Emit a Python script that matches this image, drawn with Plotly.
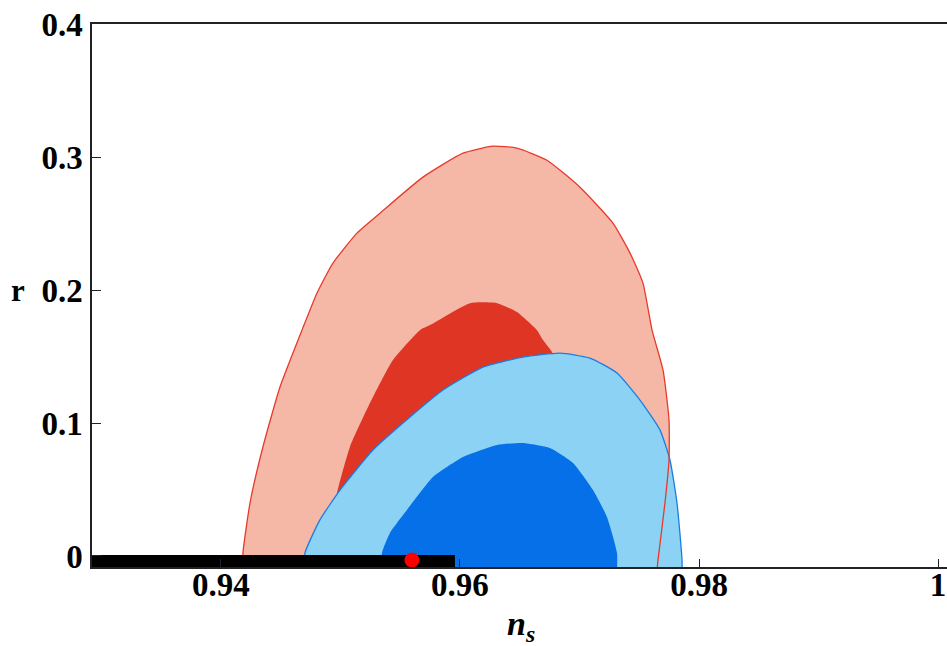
import plotly.graph_objects as go

# ---- data ----
outer_red_x = [0.94184, 0.94184, 0.94243, 0.94351, 0.94494, 0.94678, 0.94803, 0.94937, 0.95138,
               0.95331, 0.95690, 0.96025, 0.96276, 0.96477, 0.96728, 0.97004, 0.97280, 0.97423,
               0.97531, 0.97607, 0.97699, 0.97749, 0.97749, 0.97715, 0.97657, 0.97649]
outer_red_y = [-0.0105, 0.0023, 0.0398, 0.0820, 0.1271, 0.1699, 0.1977, 0.2203, 0.2429,
               0.2579, 0.2850, 0.3030, 0.3083, 0.3068, 0.2977, 0.2774, 0.2504, 0.2278,
               0.2053, 0.1699, 0.1398, 0.1023, 0.0722, 0.0398, -0.0030, -0.0105]

inner_red_x = [0.94912, 0.94937, 0.94971, 0.95079, 0.95247, 0.95439, 0.95665, 0.95749, 0.96084,
               0.96310, 0.96477, 0.96644, 0.96695, 0.96770, 0.96921, 0.97004, 0.97046]
inner_red_y = [-0.0105, 0.0271, 0.0474, 0.0820, 0.1150, 0.1474, 0.1699, 0.1737, 0.1902,
               0.1902, 0.1835, 0.1699, 0.1624, 0.1534, 0.1173, 0.0647, -0.0105]

outer_blue_x = [0.94703, 0.94703, 0.94828, 0.94996, 0.95272, 0.95582, 0.95858, 0.96192, 0.96527,
                0.96837, 0.97088, 0.97314, 0.97506, 0.97674, 0.97757, 0.97816, 0.97858, 0.97858]
outer_blue_y = [-0.0105, 0.0023, 0.0271, 0.0496, 0.0797, 0.1045, 0.1248, 0.1421, 0.1496,
                0.1526, 0.1489, 0.1376, 0.1173, 0.0947, 0.0722, 0.0398, -0.0030, -0.0105]

inner_blue_x = [0.95347, 0.95347, 0.95414, 0.95556, 0.95774, 0.96025, 0.96310, 0.96527, 0.96753,
                0.96946, 0.97113, 0.97230, 0.97314, 0.97314]
inner_blue_y = [-0.0105, 0.0023, 0.0173, 0.0346, 0.0594, 0.0744, 0.0835, 0.0850, 0.0812,
                0.0699, 0.0496, 0.0293, 0.0023, -0.0105]

bar_x = [0.9292, 0.95958]
bar_y = [-0.0038, -0.0038]

point_x = [0.95598]
point_y = [-0.0030]

x_ticks = [0.94, 0.96, 0.98, 1.0]
x_tick_labels = ["0.94", "0.96", "0.98", "1"]
y_ticks = [0, 0.1, 0.2, 0.3, 0.4]
y_tick_labels = ["0", "0.1", "0.2", "0.3", "0.4"]

# ---- styles ----
C_LIGHT_RED = "#F5B8A6"
C_DARK_RED = "#DE3524"
C_LIGHT_BLUE = "#8CD2F4"
C_DARK_BLUE = "#0670E8"
C_RED_LINE = "#E8392B"
C_BLUE_LINE = "#1A7DE2"
SMOOTH = 0.5

fig = go.Figure()

def fill_trace(x, y, color):
    return go.Scatter(x=x, y=y, mode="lines", fill="toself", fillcolor=color,
                      line=dict(width=0, color=color, shape="spline", smoothing=SMOOTH),
                      hoverinfo="skip", showlegend=False)

def outline_trace(x, y, color):
    return go.Scatter(x=x, y=y, mode="lines",
                      line=dict(width=1.3, color=color, shape="spline", smoothing=SMOOTH),
                      hoverinfo="skip", showlegend=False)

fig.add_trace(fill_trace(outer_red_x, outer_red_y, C_LIGHT_RED))
fig.add_trace(fill_trace(inner_red_x, inner_red_y, C_DARK_RED))
fig.add_trace(fill_trace(outer_blue_x, outer_blue_y, C_LIGHT_BLUE))
fig.add_trace(fill_trace(inner_blue_x, inner_blue_y, C_DARK_BLUE))
fig.add_trace(outline_trace(outer_blue_x, outer_blue_y, C_BLUE_LINE))
fig.add_trace(outline_trace(outer_red_x, outer_red_y, C_RED_LINE))

fig.add_trace(go.Scatter(x=bar_x, y=bar_y, mode="lines", line=dict(width=12, color="black"),
                         hoverinfo="skip", showlegend=False))
fig.add_trace(go.Scatter(x=point_x, y=point_y, mode="markers",
                         marker=dict(size=15, color="#FF0000", line=dict(width=0)),
                         hoverinfo="skip", showlegend=False))

tick_font = dict(family="Liberation Serif", size=33, color="black")

# plot area at page x 92..947, y 24..567
fig.update_layout(
    width=947, height=646,
    margin=dict(l=92, r=0, t=24, b=79),
    paper_bgcolor="white", plot_bgcolor="white",
    font=dict(family="Liberation Serif", color="black"),
    xaxis=dict(range=[0.92921, 1.00075], tickvals=x_ticks,
               ticktext=["<b>%s</b>" % t for t in x_tick_labels],
               ticks="inside", ticklen=8, tickwidth=1.3, tickcolor="#222", ticklabelstandoff=-12,
               ticklabeloverflow="allow",
               showgrid=False, zeroline=False, showline=True, linecolor="#222", linewidth=1.5,
               mirror=True, tickfont=tick_font),
    yaxis=dict(range=[-0.0083, 0.4002], tickvals=y_ticks,
               ticktext=["<b>%s</b>" % t for t in y_tick_labels],
               ticks="inside", ticklen=9, tickwidth=1.3, tickcolor="#222", ticklabelstandoff=1,
               ticklabeloverflow="allow",
               showgrid=False, zeroline=False, showline=True, linecolor="#222", linewidth=1.5,
               tickfont=tick_font),
    annotations=[
        dict(text="<b>r</b>", xref="paper", yref="paper", x=(18 - 92) / 855, y=(567 - 290) / 543,
             xanchor="center", yanchor="middle", showarrow=False,
             font=dict(family="Liberation Serif", size=31, color="black")),
        dict(text="<b><i>n</i></b><sub><b><i>s</i></b></sub>", xref="paper", yref="paper",
             x=(521 - 92) / 855, y=-(626 - 567) / 543, xanchor="center", yanchor="middle",
             showarrow=False, font=dict(family="Liberation Serif", size=34, color="black")),
    ],
)

fig.write_html("out.html", config={"displayModeBar": False},
               post_script="document.body.style.margin='0';document.body.style.overflow='hidden';")
